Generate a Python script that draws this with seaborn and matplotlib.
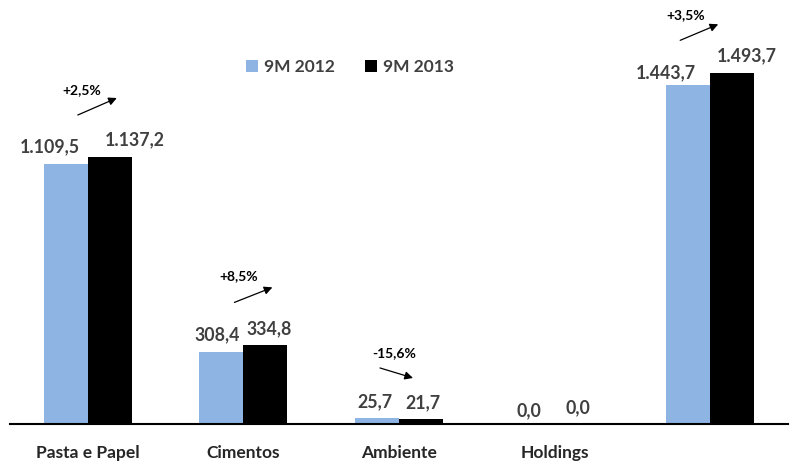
import matplotlib
matplotlib.use("Agg")
import matplotlib.pyplot as plt
import seaborn as sns
import pandas as pd

categories = ["Pasta e Papel", "Cimentos", "Ambiente", "Holdings", ""]
series_names = ["9M 2012", "9M 2013"]
values_2012 = [1109.5, 308.4, 25.7, 0.0, 1443.7]
values_2013 = [1137.2, 334.8, 21.7, 0.0, 1493.7]
labels_2012 = ["1.109,5", "308,4", "25,7", "0,0", "1.443,7"]
labels_2013 = ["1.137,2", "334,8", "21,7", "0,0", "1.493,7"]
changes = ["+2,5%", "+8,5%", "-15,6%", None, "+3,5%"]

colors = ["#8EB4E3", "#000000"]

df = pd.DataFrame({
    "cat": categories * 2,
    "serie": [series_names[0]] * 5 + [series_names[1]] * 5,
    "val": values_2012 + values_2013,
})

sns.set_theme(style="white")
plt.rcParams["font.family"] = ["Lato", "DejaVu Sans"]
plt.rcParams["font.weight"] = "bold"

W, H = 794, 463
fig = plt.figure(figsize=(W / 100, H / 100), dpi=100)
ax = fig.add_axes([10 / W, 39 / H, 778 / W, 424 / H])

sns.barplot(data=df, x="cat", y="val", hue="serie", order=categories,
            hue_order=series_names, palette=colors, width=0.566, gap=0,
            saturation=1, ax=ax, errorbar=None, linewidth=0)

ax.set_xlim(-0.5, 4.5)
ax.set_ylim(0, 1806)
ax.set_xlabel("")
ax.set_ylabel("")
ax.set_yticks([])
for s in ["top", "left", "right"]:
    ax.spines[s].set_visible(False)
ax.spines["bottom"].set_color("black")
ax.spines["bottom"].set_linewidth(1.5)
ax.tick_params(axis="x", length=0, pad=15)
for t in ax.get_xticklabels():
    t.set_fontsize(12.5)
    t.set_fontweight("bold")
    t.set_color("#262626")

# value labels (pixel offsets for layout)
bw = 0.283
lab_dx_2012 = [-16, -4, -2, -4, -22]
lab_dx_2013 = [25, 4, 2, 1, 15]
lab_dy_2012 = [11, 11, 11, 8, 7]
lab_dy_2013 = [12, 11, 11, 11, 12]
for i in range(len(categories)):
    ax.annotate(labels_2012[i], xy=(i - bw / 2, values_2012[i]),
                xytext=(lab_dx_2012[i], lab_dy_2012[i]), textcoords="offset pixels",
                ha="center", va="baseline", fontsize=12.8, fontweight="bold", color="#404040")
    ax.annotate(labels_2013[i], xy=(i + bw / 2, values_2013[i]),
                xytext=(lab_dx_2013[i], lab_dy_2013[i]), textcoords="offset pixels",
                ha="center", va="baseline", fontsize=12.8, fontweight="bold", color="#404040")

# change annotations with arrows (pixel offsets relative to group top)
txt_off = {0: (-6, 67), 1: (-5, 69), 2: (-5, 65), 4: (-25, 58)}
arr_off = {0: ((-10, 42), (29, 59)), 1: ((-9, 43), (29, 58)),
           2: ((-19, 50), (14, 40)), 4: ((-30, 33), (8, 49))}
for i, c in enumerate(changes):
    if c is None:
        continue
    top = max(values_2012[i], values_2013[i])
    ax.annotate(c, xy=(i, top), xytext=txt_off[i], textcoords="offset pixels",
                ha="center", va="center", fontsize=10, fontweight="bold", color="black")
    (sx, sy), (ex, ey) = arr_off[i]
    base = ax.transData.transform((i, top))
    p0 = ax.transData.inverted().transform((base[0] + sx, base[1] + sy))
    p1 = ax.transData.inverted().transform((base[0] + ex, base[1] + ey))
    ax.annotate("", xy=p1, xytext=p0,
                arrowprops=dict(arrowstyle="-|>", lw=0.9, color="black",
                                mutation_scale=12, shrinkA=0, shrinkB=0))

sns.move_legend(ax, loc="center", bbox_to_anchor=(0.437, 0.842), ncol=2,
                frameon=False, title=None,
                prop={"family": ["Lato", "DejaVu Sans"], "weight": "bold", "size": 12.5},
                handlelength=0.7, handleheight=0.7, handletextpad=0.35,
                columnspacing=1.7, labelcolor="#404040")

fig.savefig("out.png", dpi=100)
